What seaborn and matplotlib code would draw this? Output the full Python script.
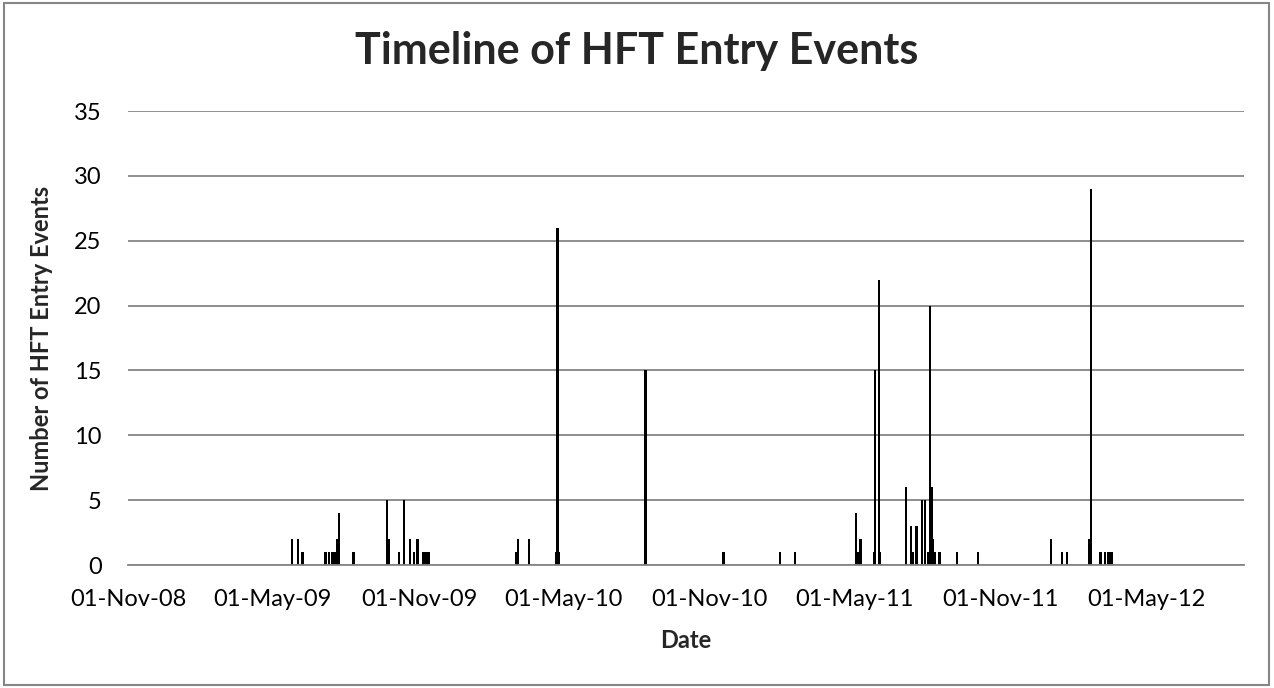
"""
Timeline of HFT entry events - bar chart on a date axis.
"""

import pandas as pd
import matplotlib
matplotlib.use("Agg")
import matplotlib.pyplot as plt
import matplotlib.dates as mdates
from matplotlib.patches import Rectangle
import seaborn as sns

# ─── Data ────────────────────────────────────────────────────────────────────
event_dates = [
    "2009-05-26", "2009-06-02", "2009-06-08",
    "2009-07-07", "2009-07-11", "2009-07-15", "2009-07-18",
    "2009-07-21", "2009-07-24", "2009-08-11",
    "2009-09-22", "2009-09-24", "2009-10-07", "2009-10-13",
    "2009-10-21", "2009-10-26", "2009-10-30",
    "2009-11-06", "2009-11-09", "2009-11-13",
    "2010-03-03", "2010-03-05", "2010-03-19",
    "2010-04-22", "2010-04-24", "2010-04-26",
    "2010-08-12", "2010-11-18", "2011-01-28", "2011-02-16",
    "2011-05-03", "2011-05-05", "2011-05-09",
    "2011-05-26", "2011-05-27", "2011-06-01", "2011-06-02",
    "2011-07-05", "2011-07-11", "2011-07-14", "2011-07-18",
    "2011-07-25", "2011-07-29",
    "2011-08-02", "2011-08-04", "2011-08-06", "2011-08-08", "2011-08-10",
    "2011-08-16", "2011-09-07", "2011-10-03",
    "2012-01-03", "2012-01-17", "2012-01-23",
    "2012-02-20", "2012-02-22",
    "2012-03-05", "2012-03-11", "2012-03-15", "2012-03-19",
]
event_counts = [
    2, 2, 1,
    1, 1, 1, 1,
    2, 4, 1,
    5, 2, 1, 5,
    2, 1, 2,
    1, 1, 1,
    1, 2, 2,
    1, 26, 1,
    15, 1, 1, 1,
    4, 1, 2,
    1, 15, 22, 1,
    6, 3, 1, 3,
    5, 5,
    1, 20, 6, 2, 1,
    1, 1, 1,
    2, 1, 1,
    2, 29,
    1, 1, 1, 1,
]
tick_dates = ["2008-11-01", "2009-05-01", "2009-11-01", "2010-05-01",
              "2010-11-01", "2011-05-01", "2011-11-01", "2012-05-01"]
y_ticks = [0, 5, 10, 15, 20, 25, 30, 35]

# ─── Style ───────────────────────────────────────────────────────────────────
GRID = "#868686"
sns.set_style("white")
plt.rcParams["font.family"] = ["Lato", "DejaVu Sans"]

df = pd.DataFrame({
    "date": mdates.date2num(pd.to_datetime(event_dates)),
    "count": event_counts,
})

fig = plt.figure(figsize=(12.74, 6.88), dpi=100)
ax = fig.add_axes([128 / 1274, 1 - 565 / 688, (1244 - 128) / 1274, (565 - 111) / 688])

# bar width ~3 days (native width unit = smallest gap between dates)
min_gap = pd.Series(sorted(df["date"].unique())).diff().min()
sns.barplot(data=df, x="date", y="count", native_scale=True, orient="x",
            color="black", saturation=1, errorbar=None,
            width=3.0 / min_gap, linewidth=0, ax=ax)

ax.set_xlim(mdates.date2num(pd.Timestamp("2008-11-01")),
            mdates.date2num(pd.Timestamp("2012-09-01")))
ax.set_ylim(0, 35)
ax.set_xticks(mdates.date2num(pd.to_datetime(tick_dates)))
ax.xaxis.set_major_formatter(mdates.DateFormatter("%d-%b-%y"))
ax.set_yticks(y_ticks)
ax.set_xlabel("")
ax.set_ylabel("")

ax.yaxis.grid(True, color=GRID, linewidth=1.3)
ax.set_axisbelow(True)
for s in ["left", "right", "top"]:
    ax.spines[s].set_visible(False)
ax.spines["bottom"].set_color(GRID)
ax.spines["bottom"].set_linewidth(1.3)
ax.tick_params(axis="y", length=0, pad=19, labelsize=17, labelcolor="black")
ax.tick_params(axis="x", direction="in", length=9, width=1.3, color=GRID,
               pad=17, labelsize=17, labelcolor="black")

# ─── Text ────────────────────────────────────────────────────────────────────
fig.text(0.5, 1 - 51 / 688, "Timeline of HFT Entry Events", ha="center",
         va="center", fontsize=31, fontweight="bold")
fig.text(42 / 1274, 1 - 338 / 688, "Number of HFT Entry Events", ha="center",
         va="center", rotation=90, fontsize=17, fontweight="bold")
fig.text(686 / 1274, 1 - 640 / 688, "Date", ha="center", va="center",
         fontsize=17, fontweight="bold")

# chart-area border
fig.patches.append(Rectangle((4 / 1274, 3 / 688), 1265 / 1274, 682 / 688,
                             transform=fig.transFigure, fill=False,
                             edgecolor=GRID, linewidth=1.5))

fig.savefig("out.png", dpi=100, facecolor="white")
